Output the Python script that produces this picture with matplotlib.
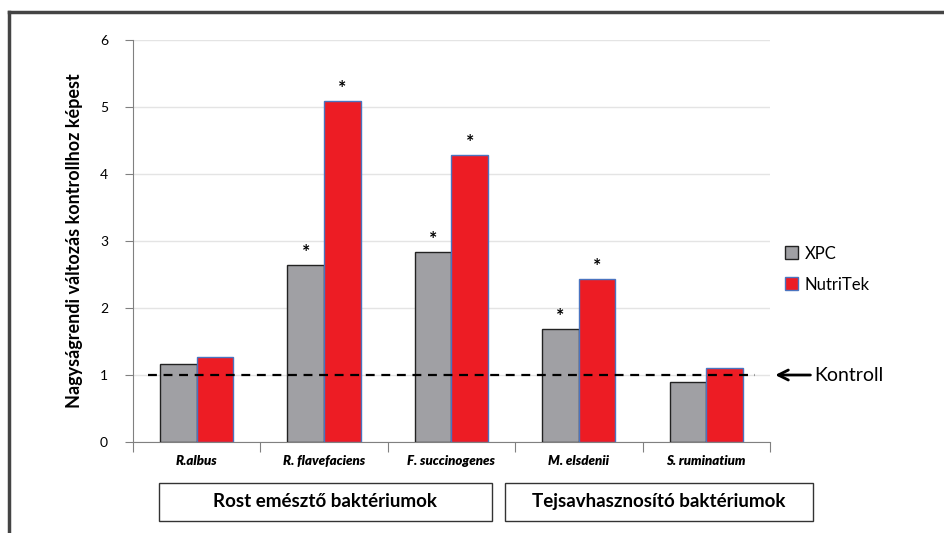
import numpy as np
import matplotlib
matplotlib.use('Agg')
import matplotlib.pyplot as plt
from matplotlib.patches import Rectangle

plt.rcParams['font.family'] = ['Lato', 'DejaVu Sans']

# data
species = ['R.albus', 'R. flavefaciens', 'F. succinogenes', 'M. elsdenii', 'S. ruminatium']
xpc = [1.17, 2.64, 2.84, 1.68, 0.90]
nutritek = [1.27, 5.09, 4.28, 2.43, 1.10]
xpc_sig = [False, True, True, True, False]
nt_sig = [False, True, True, True, False]
groups = ['Rost emésztő baktériumok', 'Tejsavhasznosító baktériumok']
group_boxes = [(-0.296, 2.318), (2.42, 4.837)]

fig = plt.figure(figsize=(9.45, 5.33), dpi=100)
ax = fig.add_axes([0.1407, 0.1707, 0.674, 0.7542])

x = np.arange(len(species))
w = 0.287
ax.bar(x - w/2, xpc, w, color='#a0a0a4', edgecolor='#222222', linewidth=1, label='XPC', zorder=3)
ax.bar(x + w/2, nutritek, w, color='#ed1c24', edgecolor='#4a74c0', linewidth=1, label='NutriTek', zorder=3)

for i in range(len(species)):
    if xpc_sig[i]:
        ax.text(x[i] - w/2, xpc[i] + 0.06, '*', ha='center', va='bottom', fontsize=14, fontweight='bold')
    if nt_sig[i]:
        ax.text(x[i] + w/2, nutritek[i] + 0.06, '*', ha='center', va='bottom', fontsize=14, fontweight='bold')

ax.set_xlim(-0.5, len(species) - 0.5)
ax.set_ylim(0, 6)
ax.set_yticks(range(7))
ax.tick_params(axis='y', length=6, color='#808080', labelsize=10, pad=12)
ax.set_xticks(np.arange(-0.5, len(species), 1))
ax.set_xticklabels([])
ax.tick_params(axis='x', length=7, color='#808080', direction='out')
for i, s in enumerate(species):
    ax.text(x[i], -0.28, s, ha='center', va='center', fontsize=9.5, fontweight='heavy', style='italic')

ax.grid(axis='y', color='#e4e4e4', linewidth=1, zorder=0)
for side in ['top', 'right']:
    ax.spines[side].set_visible(False)
ax.spines['left'].set_color('#808080')
ax.spines['bottom'].set_color('#808080')

ax.plot([-0.38, 4.38], [1, 1], color='black', linestyle=(0, (4, 3)), linewidth=1.6, zorder=4, clip_on=False)
ax.annotate('', xy=(4.52, 1), xytext=(4.84, 1), xycoords='data',
            arrowprops=dict(arrowstyle='->', color='black', lw=2, mutation_scale=18),
            annotation_clip=False)
ax.text(4.85, 1, 'Kontroll', ha='left', va='center', fontsize=14)

ax.set_ylabel('Nagyságrendi változás kontrollhoz képest', fontsize=13, fontweight='bold', labelpad=12)

ax.legend(loc='center left', bbox_to_anchor=(1.0, 0.43), frameon=False, fontsize=12,
          handlelength=0.8, handleheight=0.8, labelspacing=0.9, handletextpad=0.4)

# group boxes
for g, (x0, x1) in zip(groups, group_boxes):
    ax.add_patch(Rectangle((x0, -1.18), x1 - x0, 0.57, transform=ax.transData,
                           fill=False, edgecolor='#333333', linewidth=1, clip_on=False))
    ax.text((x0 + x1) / 2, -0.895, g, ha='center', va='center', fontsize=13.5, fontweight='bold')

# outer frame (left and top edges)
fig.add_artist(plt.Line2D([9/945, 9/945], [0, 1 - 12/533], color='#444444', linewidth=2.5, transform=fig.transFigure))
fig.add_artist(plt.Line2D([9/945, 1], [1 - 12/533, 1 - 12/533], color='#444444', linewidth=2.5, transform=fig.transFigure))

fig.savefig('out.png', dpi=100)
